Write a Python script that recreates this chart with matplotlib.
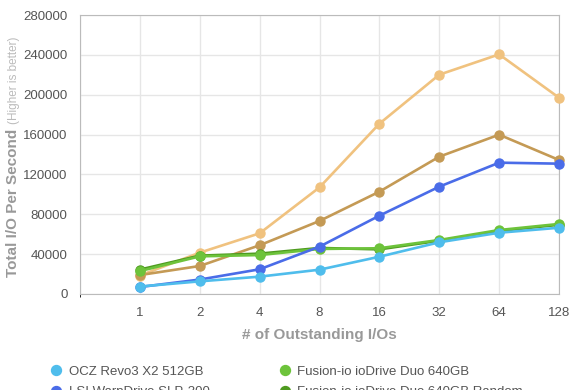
import numpy as np
import matplotlib
matplotlib.use("Agg")
import matplotlib.pyplot as plt

plt.rcParams["font.family"] = ["Liberation Sans", "DejaVu Sans"]

queue_depths = ["1", "2", "4", "8", "16", "32", "64", "128"]

ocz_revo3 = [7500, 12700, 17400, 24400, 37400, 51900, 61500, 66500]
lsi_warpdrive = [7000, 14500, 24800, 47500, 78600, 107700, 131800, 130800]
fusion_duo = [23000, 37800, 39100, 45200, 45900, 54200, 64200, 70300]
fusion_duo_random = [24500, 38500, 40500, 46200, 44800, 53500, 63200, 69500]
tan_series = [19000, 28100, 48900, 73300, 102700, 137800, 159900, 134500]
light_orange_series = [18500, 41500, 60900, 107000, 170900, 220100, 240500, 197000]

series = [
    ("OCZ Revo3 X2 512GB", ocz_revo3, "#4fbdec"),
    ("LSI WarpDrive SLP-300", lsi_warpdrive, "#4a6ce8"),
    ("OCZ Z-Drive R4", tan_series, "#c49a55"),
    ("Fusion-io ioDrive Duo 640GB", fusion_duo, "#6dc33b"),
    ("Fusion-io ioDrive Duo 640GB Random", fusion_duo_random, "#4e9a1f"),
    ("OCZ Z-Drive R4 RAID", light_orange_series, "#f0c27f"),
]
zorders = [8, 7, 4, 6, 5, 3]

fig = plt.figure(figsize=(5.8, 3.9), dpi=100)
ax = fig.add_axes([80 / 580, 1 - 294 / 390, 479 / 580, 279 / 390])

x = np.arange(len(queue_depths))
for (name, vals, color), z in zip(series, zorders):
    ax.plot(x, vals, "-o", color=color, label=name, linewidth=1.9,
            markersize=6.5, zorder=z, clip_on=False)

ax.set_xlim(-1, len(queue_depths) - 1)
ax.set_ylim(0, 280000)
ax.set_xticks(x)
ax.set_xticklabels(queue_depths)
ax.set_yticks(np.arange(0, 280001, 40000))
ax.tick_params(length=0, labelsize=9.5, colors="#555555", pad=9)
ax.set_xticks(np.arange(-1, len(queue_depths)), minor=True)
ax.grid(True, which="both", color="#e6e6e6", linewidth=1)
ax.set_axisbelow(True)
for sp in ax.spines.values():
    sp.set_color("#bbbbbb")

ax.set_xlabel("# of Outstanding I/Os", fontsize=11, color="#999999",
              fontweight="bold", labelpad=7)

fig.text(13 / 580, 1 - 203 / 390, "Total I/O Per Second", rotation=90,
         ha="center", va="center", fontsize=11, fontweight="bold",
         color="#999999")
fig.text(14 / 580, 1 - 80 / 390, "(Higher is better)", rotation=90,
         ha="center", va="center", fontsize=8.5, color="#bbbbbb")

ax.legend(loc="upper left", bbox_to_anchor=(-41 / 479, -0.215), ncol=2,
          frameon=False, fontsize=9.5, labelcolor="#555555",
          handlelength=0.8, handletextpad=0.55, columnspacing=5.3,
          labelspacing=0.6, markerscale=1.1)
leg = ax.get_legend()
for h in leg.legend_handles:
    h.set_linestyle("none")

fig.savefig("out.png", dpi=100)
